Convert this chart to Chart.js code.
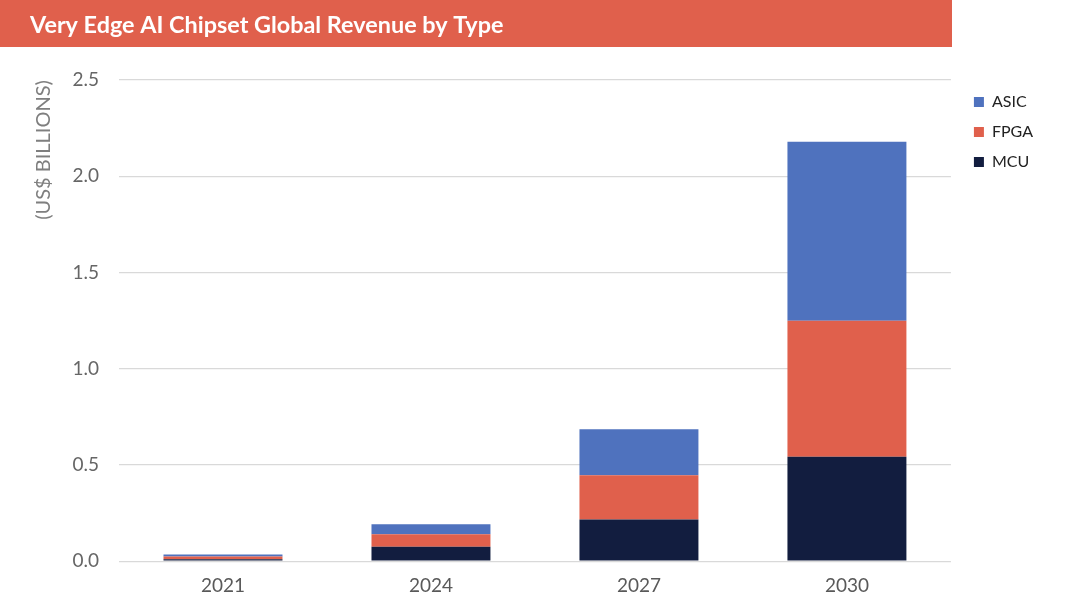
<!DOCTYPE html>
<html>
<head>
<meta charset="utf-8">
<script src="https://cdn.jsdelivr.net/npm/chart.js@4/dist/chart.umd.min.js"></script>
<style>
  html, body { margin: 0; padding: 0; background: #ffffff; }
  #wrap { width: 1080px; height: 610px; position: relative; }
</style>
</head>
<body>
<div id="wrap"><canvas id="c"></canvas></div>
<script>
const titleText = 'Very Edge AI Chipset Global Revenue by Type';
const yAxisTitle = '(US$ BILLIONS)';
const categories = ['2021', '2024', '2027', '2030'];
const mcu  = [0.010, 0.075, 0.217, 0.543];
const fpga = [0.015, 0.065, 0.229, 0.707];
const asic = [0.010, 0.052, 0.240, 0.929];
const yTicks = [0, 0.5, 1.0, 1.5, 2.0, 2.5];

const bandPlugin = {
  id: 'band',
  beforeDraw(chart) {
    const ctx = chart.ctx;
    ctx.save();
    ctx.fillStyle = '#ffffff';
    ctx.fillRect(0, 0, chart.width, chart.height);
    ctx.fillStyle = '#E0604C';
    ctx.fillRect(0, 0, 952, 47);
    ctx.restore();
  }
};

const legendShift = {
  id: 'legendShift',
  afterLayout(chart) {
    const lg = chart.legend;
    if (lg) { lg.left += 9; lg.right += 9; }
  }
};

new Chart(document.getElementById('c'), {
  type: 'bar',
  data: {
    labels: categories,
    datasets: [
      { label: 'MCU',  data: mcu,  backgroundColor: '#121D3F' },
      { label: 'FPGA', data: fpga, backgroundColor: '#E0604C' },
      { label: 'ASIC', data: asic, backgroundColor: '#4F72BE' }
    ]
  },
  plugins: [bandPlugin, legendShift],
  options: {
    responsive: true,
    maintainAspectRatio: false,
    animation: false,
    layout: { padding: { left: 30, right: 46, top: 0, bottom: 0 } },
    datasets: { bar: { barPercentage: 0.572, categoryPercentage: 1.0 } },
    plugins: {
      title: {
        display: true,
        text: titleText,
        align: 'start',
        color: '#ffffff',
        font: { family: 'Lato', size: 23.4, weight: 'bold', lineHeight: 1.2 },
        padding: { top: 11, bottom: 41 }
      },
      legend: {
        position: 'right',
        align: 'start',
        fullSize: false,
        reverse: true,
        labels: {
          boxWidth: 10,
          boxHeight: 10,
          padding: 14,
          color: '#222222',
          font: { family: 'Lato', size: 16 }
        }
      },
      tooltip: { enabled: false }
    },
    scales: {
      x: {
        stacked: true,
        grid: { display: false, drawTicks: false },
        border: { display: false },
        ticks: { color: '#595959', padding: 13, font: { family: 'Lato', size: 19 } }
      },
      y: {
        stacked: true,
        min: 0,
        max: 2.5,
        afterBuildTicks(scale) { scale.ticks = yTicks.map(v => ({ value: v })); },
        afterFit(scale) { scale.width = 89; },
        grid: { color: '#D9D9D9', lineWidth: 1.3, drawTicks: false },
        border: { display: false },
        ticks: {
          color: '#666666',
          padding: 20,
          font: { family: 'Lato', size: 19 },
          callback: v => Number(v).toFixed(1)
        },
        title: {
          display: true,
          text: yAxisTitle,
          align: 'end',
          color: '#7F7F7F',
          padding: { top: 2, bottom: 0 },
          font: { family: 'Lato', size: 20 }
        }
      }
    }
  }
});
</script>
</body>
</html>
